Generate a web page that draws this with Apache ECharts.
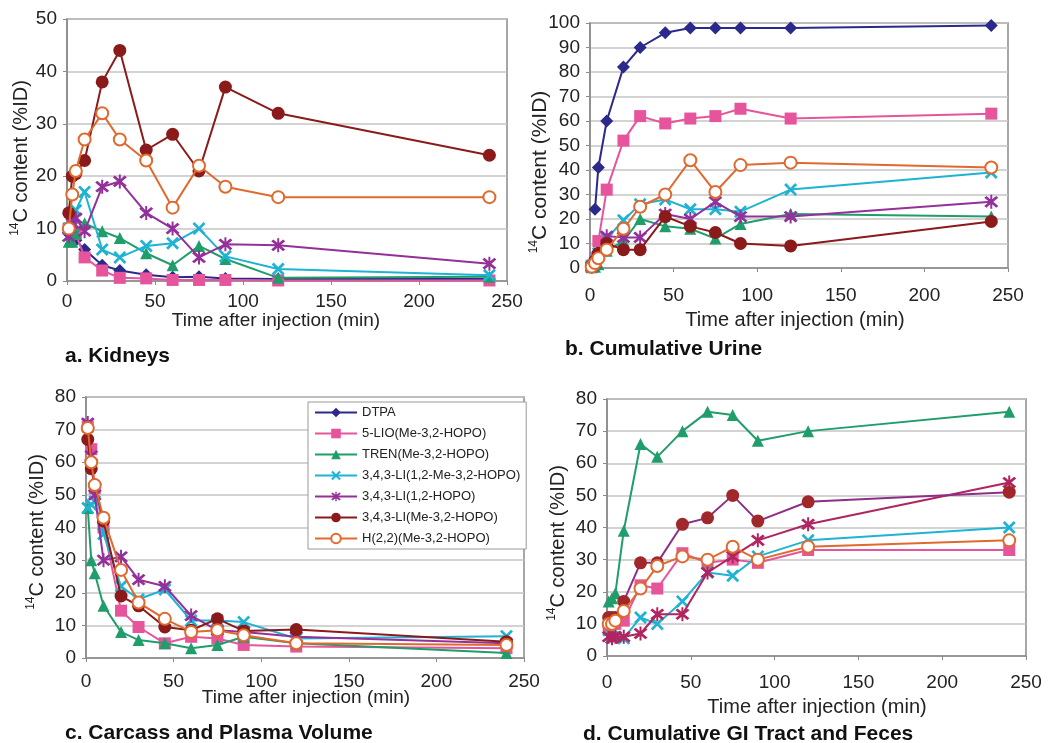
<!DOCTYPE html>
<html><head><meta charset="utf-8">
<script src="https://cdn.jsdelivr.net/npm/echarts@6/dist/echarts.min.js"></script>
<style>html,body{margin:0;padding:0;background:#fff}#c{width:1058px;height:743px}</style>
</head><body><div id="c"></div>
<script>
// ---- data ----
const times = [1, 3, 5, 10, 20, 30, 45, 60, 75, 90, 120, 240];
const names = ['DTPA','5-LIO(Me-3,2-HOPO)','TREN(Me-3,2-HOPO)','3,4,3-LI(1,2-Me-3,2-HOPO)','3,4,3-LI(1,2-HOPO)','3,4,3-LI(Me-3,2-HOPO)','H(2,2)(Me-3,2-HOPO)'];
const xTicks = [0, 50, 100, 150, 200, 250];
const yMax = [50, 100, 80, 80];
const panelTitles = ['a. Kidneys','b. Cumulative Urine','c. Carcass and Plasma Volume','d. Cumulative GI Tract and Feces'];
const xTitle = 'Time after injection (min)';

// a. Kidneys
const aDTPA   = [9, 8.5, 7.8, 6, 3, 2, 1.2, 0.7, 0.8, 0.5, 0.4, 0.4];
const a5LIO   = [10, 9.5, 9, 4.5, 2, 0.6, 0.5, 0.2, 0.2, 0.2, 0.1, 0.1];
const aTREN   = [7.5, 7.5, 9, 11, 9.5, 8.2, 5.3, 3, 6.7, 4.2, 0.6, 0.8];
const aLI12Me = [10, 12, 13.5, 17, 6, 4.5, 6.7, 7.2, 10, 4.7, 2.3, 1.1];
const aLI12   = [8.5, 11, 12, 9.5, 18, 19, 13, 10, 4.5, 7, 6.8, 3.3];
const aLIMe   = [13, 20, 20.5, 23, 38, 44, 25, 28, 21, 37, 32, 24];
const aH22    = [10, 16.5, 21, 27, 32, 27, 23, 14, 22, 18, 16, 16];
// b. Cumulative urine
const bDTPA   = [null, 24, 41, 60, 82, 90, 96, 98, 98, 98, 98, 99];
const b5LIO   = [0.5, 4, 11, 32, 52, 62, 59, 61, 62, 65, 61, 63];
const bTREN   = [0.3, 0.5, 1.5, 7, 11, 20, 17, 16, 12, 18, 22, 21];
const bLI12Me = [1, 3, 6, 12, 19.5, 26, 28, 24, 24, 23, 32, 39];
const bLI12   = [0.5, 2, 5, 13, 12.5, 12.5, 22, 20, 27, 21, 21, 27];
const bLIMe   = [1, 3, 6, 10, 7.5, 7.5, 21, 17, 14.5, 10, 9, 19];
const bH22    = [0.5, 2, 4, 7.5, 16, 25, 30, 44, 31, 42, 43, 41];
// c. Carcass and plasma volume
const cDTPA   = [];
const c5LIO   = [71, 64, 52, 40, 14.5, 9.5, 4.5, 6.5, 6, 4, 3.5, 3];
const cTREN   = [46, 30, 26, 16, 8, 5.5, 4.5, 3, 4, 6.5, 4.5, 1.5];
const cLI12Me = [46, 47, 48, 38, 22, 18, 21, 11.5, 11.5, 11, 6, 6.7];
const cLI12   = [72, 62, 50, 30, 31, 24, 22, 13, 8.5, 8, 6.5, 4.5];
const cLIMe   = [67, 58, 53, 42, 19, 16, 9.5, 8.5, 12, 8.3, 8.7, 5];
const cH22    = [70.5, 60, 53, 43, 27, 17, 12, 8, 8.5, 7, 4.5, 4];
// d. Cumulative GI tract and feces
const dDTPA   = [];
const d5LIO   = [9, 10, 10, 11, 22, 21, 32, 29, 30, 29, 33, 33];
const dTREN   = [17, 18, 19.5, 39, 66, 62, 70, 76, 75, 67, 70, 76];
const dLI12Me = [8, 6, 6, 5.5, 12, 10, 17, 26, 25, 31, 36, 40];
const dLI12   = [6, 5.5, 6, 6, 7, 13, 13, 26, 31, 36, 41, 54];
const dLIMe   = [12, 12, 12, 17, 29, 29, 41, 43, 50, 42, 48, 51];
const dH22    = [10, 10, 11, 14, 21, 28, 31, 30, 34, 30, 34, 36];

const panels = [
  [aDTPA, a5LIO, aTREN, aLI12Me, aLI12, aLIMe, aH22],
  [bDTPA, b5LIO, bTREN, bLI12Me, bLI12, bLIMe, bH22],
  [cDTPA, c5LIO, cTREN, cLI12Me, cLI12, cLIMe, cH22],
  [dDTPA, d5LIO, dTREN, dLI12Me, dLI12, dLIMe, dH22]
];

// ---- styles ----
const FONT = '"Liberation Sans", Arial, sans-serif';
const X_PATH = 'path://M0,1.5 L1.5,0 L5,3.5 L8.5,0 L10,1.5 L6.5,5 L10,8.5 L8.5,10 L5,6.5 L1.5,10 L0,8.5 L3.5,5 Z';
const STAR_PATH = 'path://M0,1.5 L1.5,0 L5,3.5 L8.5,0 L10,1.5 L6.5,5 L10,8.5 L8.5,10 L5,6.5 L1.5,10 L0,8.5 L3.5,5 Z M4.3,-1 L5.7,-1 L5.7,11 L4.3,11 Z';
const styles = [
  {color:'#2b2a8c', symbol:'diamond', size:13},
  {color:'#e6559c', symbol:'rect', size:12},
  {color:'#1f9e6b', symbol:'triangle', size:12},
  {color:'#1fb3d3', symbol:X_PATH, size:13},
  {color:'#93309a', symbol:STAR_PATH, size:14},
  {color:'#8b1a1a', symbol:'circle', size:13},
  {color:'#e0692e', symbol:'emptyCircle', size:12}
];
// panel-specific line colours (panel d)
const lineOverride = {3: {4: '#b0245f', 5: '#8e2f86'}};
const markOverride = {3: {4: '#b0245f', 5: '#a0272a'}};

const grids = [
  {left:67, top:19, width:440, height:262},
  {left:590, top:23, width:418, height:245},
  {left:86, top:397, width:438, height:261},
  {left:607, top:399, width:419, height:257}
];
const xLabelMargin = [11, 18, 14, 17];
const xTitlePos = [[276, 321], [795, 320], [306, 698], [817, 707]];
const yTitlePos = [[21, 158], [540, 172], [37, 532], [558, 543]];
const panelTitlePos = [[65, 356], [565, 349], [65, 733], [583, 734]];

const series = [];
panels.forEach((p, pi) => {
  p.forEach((vals, si) => {
    const st = styles[si];
    const lc = (lineOverride[pi] && lineOverride[pi][si]) || st.color;
    const mc = (markOverride[pi] && markOverride[pi][si]) || st.color;
    const data = [];
    vals.forEach((v, i) => { if (v !== null && v !== undefined) data.push([times[i], v]); });
    series.push({
      type:'line', name: names[si], xAxisIndex: pi, yAxisIndex: pi, data,
      symbol: st.symbol, symbolSize: st.size, showAllSymbol: true,
      lineStyle: {color: lc, width: 2},
      itemStyle: st.symbol === 'emptyCircle' ? {color: mc, borderColor: mc, borderWidth: 2} : {color: mc, borderWidth: 0},
      emphasis: {disabled: true}, z: 2 + si
    });
  });
});

const graphics = [];
for (let i = 0; i < 4; i++) {
  graphics.push({type:'text', x: xTitlePos[i][0], y: xTitlePos[i][1],
    style:{text: xTitle, fontFamily: FONT, fontSize: i % 2 ? 20 : 19, fill:'#222', align:'center', verticalAlign:'middle'}});
  graphics.push({type:'text', x: yTitlePos[i][0], y: yTitlePos[i][1], rotation: Math.PI/2,
    style:{text:'{s|14}{n|C content (%ID)}', fill:'#222', align:'center', verticalAlign:'middle',
      rich:{ s:{fontFamily: FONT, fontSize:12, fill:'#222', verticalAlign:'top', lineHeight:12},
             n:{fontFamily: FONT, fontSize: i===1 ? 21 : 20, fill:'#222', lineHeight:24} }}});
  graphics.push({type:'text', x: panelTitlePos[i][0], y: panelTitlePos[i][1],
    style:{text: panelTitles[i], fontFamily: FONT, fontSize: 21, fontWeight:'bold', fill:'#111', align:'left', verticalAlign:'middle'}});
}

const option = {
  animation: false,
  backgroundColor: '#fff',
  grid: grids.map(g => Object.assign({show:true, borderColor:'#8a8a8a', borderWidth:1.5, backgroundColor:'#fff', containLabel:false}, g)),
  xAxis: grids.map((g, i) => ({
    type:'value', gridIndex:i, min:xTicks[0], max:xTicks[xTicks.length-1], interval:50,
    axisLine:{show:true, lineStyle:{color:'#8a8a8a', width:1.5}},
    axisTick:{show:true, length:4, lineStyle:{color:'#8a8a8a'}},
    splitLine:{show:false},
    axisLabel:{fontFamily:FONT, fontSize:19, color:'#222', margin:xLabelMargin[i]}
  })),
  yAxis: grids.map((g, i) => ({
    type:'value', gridIndex:i, min:0, max:yMax[i], interval:10,
    axisLine:{show:true, lineStyle:{color:'#8a8a8a', width:1.5}},
    axisTick:{show:true, length:4, lineStyle:{color:'#8a8a8a'}},
    splitLine:{show:true, lineStyle:{color:'#c4c4c4', width:1.5}},
    axisLabel:{fontFamily:FONT, fontSize:19, color:'#222', margin:10}
  })),
  legend: {
    data: names, orient:'vertical', left:308, top:402,
    padding:[4, 6, 4, 6], itemWidth:42, itemHeight:12, itemGap:8,
    backgroundColor:'#fff', borderColor:'#999', borderWidth:1,
    textStyle:{fontFamily:FONT, fontSize:13, color:'#222'},
    selectedMode:false
  },
  graphic: graphics,
  series
};
echarts.init(document.getElementById('c'), null, {renderer:'canvas'}).setOption(option);
</script>
</body></html>
